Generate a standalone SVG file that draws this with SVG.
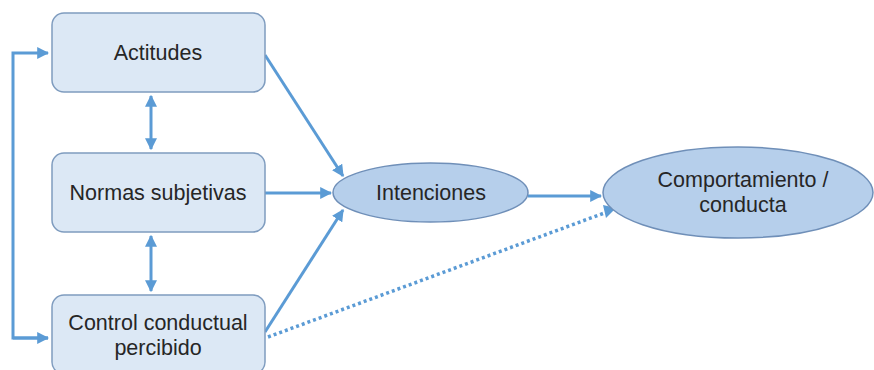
<svg xmlns="http://www.w3.org/2000/svg" width="874" height="370" viewBox="0 0 874 370">
  <defs>
    <marker id="ah" viewBox="0 0 10 10" refX="9" refY="5" markerWidth="4" markerHeight="4" orient="auto-start-reverse" markerUnits="strokeWidth">
      <path d="M0,0 L10,5 L0,10 Z" fill="#5b9bd5"/>
    </marker>
    <style>
      .box { fill: #dce8f5; stroke: #7f9cbf; stroke-width: 1.5; }
      .ell { fill: #b6cfeb; stroke: #6f8fb8; stroke-width: 1.5; }
      .lbl { font-family: "Liberation Sans", Arial, sans-serif; font-size: 21.5px; fill: #262626; text-anchor: middle; }
      .ln { fill: none; stroke: #5b9bd5; stroke-width: 3; }
      .dot { fill: none; stroke: #5b9bd5; stroke-width: 3.5; stroke-dasharray: 3 3; }
    </style>
  </defs>
  <rect width="874" height="370" fill="#ffffff"/>

  <g id="connectors">
    <!-- feedback loop on the left -->
    <path class="ln" d="M48,338 H13 V53 H48" marker-end="url(#ah)"/>
    <path class="ln" d="M13,338 H48" marker-end="url(#ah)"/>
    <!-- mutual relations between the three determinants -->
    <line class="ln" x1="151" y1="96" x2="151" y2="149" marker-start="url(#ah)" marker-end="url(#ah)"/>
    <line class="ln" x1="151" y1="236" x2="151" y2="291" marker-start="url(#ah)" marker-end="url(#ah)"/>
    <!-- determinants to intentions -->
    <line class="ln" x1="265" y1="55" x2="343" y2="176" marker-end="url(#ah)"/>
    <line class="ln" x1="265" y1="193" x2="331" y2="193" marker-end="url(#ah)"/>
    <line class="ln" x1="265" y1="332" x2="343" y2="210" marker-end="url(#ah)"/>
    <!-- intentions to behaviour -->
    <line class="ln" x1="528" y1="196" x2="601" y2="196" marker-end="url(#ah)"/>
    <!-- direct path from perceived control to behaviour -->
    <line class="dot" x1="268" y1="337" x2="607" y2="212"/>
    <path d="M603,205 L616,208 L606,218 Z" fill="#5b9bd5"/>
  </g>

  <g id="actitudes">
    <rect class="box" x="52" y="13" width="213" height="79" rx="12"/>
    <text class="lbl" x="158" y="60">Actitudes</text>
  </g>

  <g id="normas">
    <rect class="box" x="52" y="153" width="213" height="79" rx="12"/>
    <text class="lbl" x="158" y="200">Normas subjetivas</text>
  </g>

  <g id="control">
    <rect class="box" x="52" y="295" width="213" height="79" rx="12"/>
    <text class="lbl" x="158" y="330">Control conductual</text>
    <text class="lbl" x="158" y="355">percibido</text>
  </g>

  <g id="intenciones">
    <ellipse class="ell" cx="430.5" cy="192.5" rx="97.5" ry="29.5"/>
    <text class="lbl" x="431" y="200">Intenciones</text>
  </g>

  <g id="comportamiento">
    <ellipse class="ell" cx="738" cy="192.5" rx="135" ry="45.5"/>
    <text class="lbl" x="743" y="187">Comportamiento /</text>
    <text class="lbl" x="743" y="212">conducta</text>
  </g>
</svg>
